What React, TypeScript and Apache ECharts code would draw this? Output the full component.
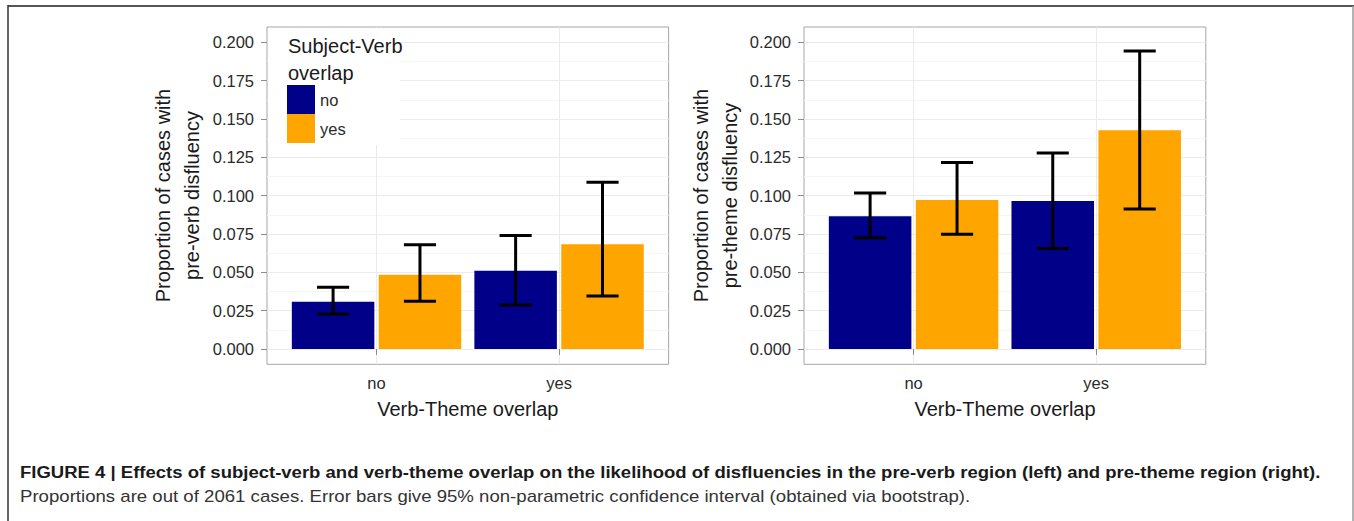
import React, { useEffect, useRef } from "react";
import * as echarts from "echarts";

// ---- data ----
const categories = ["no", "yes"]; // Verb-Theme overlap
const legendGroups = ["no", "yes"]; // Subject-Verb overlap

const preVerbNo = [0.0308, 0.051];
const preVerbNoLow = [0.0228, 0.0286];
const preVerbNoHigh = [0.0403, 0.074];
const preVerbYes = [0.0484, 0.0683];
const preVerbYesLow = [0.0312, 0.0345];
const preVerbYesHigh = [0.0679, 0.1087];

const preThemeNo = [0.0866, 0.0965];
const preThemeNoLow = [0.0725, 0.0655];
const preThemeNoHigh = [0.1017, 0.1278];
const preThemeYes = [0.0972, 0.1427];
const preThemeYesLow = [0.0748, 0.0913];
const preThemeYesHigh = [0.1217, 0.1944];

const yTicks = [0, 0.025, 0.05, 0.075, 0.1, 0.125, 0.15, 0.175, 0.2];
const yMinorTicks = [0.0125, 0.0375, 0.0625, 0.0875, 0.1125, 0.1375, 0.1625, 0.1875];
const xTicks = [1, 2];

const leftTitle = "Proportion of cases with\npre-verb disfluency";
const rightTitle = "Proportion of cases with\npre-theme disfluency";
const xTitle = "Verb-Theme overlap";
const legendTitle = "Subject-Verb\noverlap";
const caption1 =
  "FIGURE 4 | Effects of subject-verb and verb-theme overlap on the likelihood of disfluencies in the pre-verb region (left) and pre-theme region (right).";
const caption2 =
  "Proportions are out of 2061 cases. Error bars give 95% non-parametric confidence interval (obtained via bootstrap).";

// ---- style ----
const FONT = "Liberation Sans, Arial, Helvetica, sans-serif";
const BLUE = "#000088";
const ORANGE = "#FFA500";
const DODGE = 0.238;
const HALF_BAR = 0.226;
const HALF_CAP = 0.088;
const CAP_FONT = 17;
const CAP1_WIDTH = 1302;
const CAP2_WIDTH = 951;

const grids = [
  { left: 267, top: 27, width: 401.6, height: 337.3 },
  { left: 804, top: 27, width: 401.8, height: 337.3 },
];

function measure(text: string, font: string): number {
  try {
    const c = document.createElement("canvas");
    const ctx = c.getContext("2d");
    if (!ctx) return 0;
    ctx.font = font;
    return ctx.measureText(text).width;
  } catch (e) {
    return 0;
  }
}

function barSeries(grid: number, name: string, values: number[], offset: number, color: string) {
  return {
    type: "custom",
    name,
    xAxisIndex: grid,
    yAxisIndex: grid * 2,
    itemStyle: { color },
    z: 2,
    data: values.map((v, i) => [i + 1 + offset, v]),
    renderItem: (params: any, api: any) => {
      const x = api.value(0);
      const v = api.value(1);
      const p0 = api.coord([x - HALF_BAR, v]);
      const p1 = api.coord([x + HALF_BAR, 0]);
      return {
        type: "rect",
        shape: { x: p0[0], y: p0[1], width: p1[0] - p0[0], height: p1[1] - p0[1] },
        style: { fill: color },
      };
    },
  };
}

function errSeries(grid: number, lows: number[], highs: number[], offset: number) {
  return {
    type: "custom",
    name: "err",
    xAxisIndex: grid,
    yAxisIndex: grid * 2,
    z: 3,
    data: lows.map((lo, i) => [i + 1 + offset, lo, highs[i]]),
    renderItem: (params: any, api: any) => {
      const x = api.value(0);
      const lo = api.coord([x, api.value(1)]);
      const hi = api.coord([x, api.value(2)]);
      const capL = api.coord([x - HALF_CAP, 0])[0];
      const capR = api.coord([x + HALF_CAP, 0])[0];
      const st = { stroke: "#000", lineWidth: 3 };
      return {
        type: "group",
        children: [
          { type: "line", shape: { x1: lo[0], y1: lo[1], x2: hi[0], y2: hi[1] }, style: st },
          { type: "line", shape: { x1: capL, y1: lo[1], x2: capR, y2: lo[1] }, style: st },
          { type: "line", shape: { x1: capL, y1: hi[1], x2: capR, y2: hi[1] }, style: st },
        ],
      };
    },
  };
}

function xAxis(grid: number) {
  return {
    gridIndex: grid,
    type: "value",
    min: 0.4,
    max: 2.6,
    axisLine: { show: false },
    axisTick: { show: true, customValues: xTicks, length: 6, lineStyle: { color: "#8c8c8c" } },
    axisLabel: {
      customValues: xTicks,
      formatter: (v: number) => categories[Math.round(v) - 1],
      fontSize: 16.5,
      color: "#2b2b2b",
      margin: 10,
      fontFamily: FONT,
    },
    splitLine: { show: true, lineStyle: { color: "#ebebeb", width: 1 } },
  };
}

function yAxes(grid: number) {
  return [
    {
      gridIndex: grid,
      type: "value",
      min: -0.01,
      max: 0.21,
      position: "left",
      axisLine: { show: false },
      axisTick: { show: true, customValues: yTicks, length: 6, lineStyle: { color: "#8c8c8c" } },
      axisLabel: {
        customValues: yTicks,
        formatter: (v: number) => v.toFixed(3),
        fontSize: 16.5,
        color: "#2b2b2b",
        margin: 13,
        fontFamily: FONT,
      },
      splitLine: { show: true, lineStyle: { color: "#ebebeb", width: 1 } },
    },
    {
      gridIndex: grid,
      type: "value",
      min: -0.01,
      max: 0.21,
      position: "right",
      axisLine: { show: false },
      axisTick: { show: false, customValues: yMinorTicks },
      axisLabel: { show: false, customValues: yMinorTicks },
      splitLine: { show: true, lineStyle: { color: "#f6f6f6", width: 1 } },
    },
  ];
}

function titleText(x: number, y: number, text: string, rotate: boolean) {
  return {
    type: "text",
    x,
    y,
    rotation: rotate ? Math.PI / 2 : 0,
    z: 5,
    style: {
      text,
      fontFamily: FONT,
      fontSize: 20,
      lineHeight: 29,
      fill: "#1a1a1a",
      textAlign: "center",
      textVerticalAlign: "middle",
    },
  };
}

export default function App() {
  const ref = useRef<HTMLDivElement>(null);
  useEffect(() => {
    document.body.style.margin = "0";
    if (!ref.current) return;
    const chart = echarts.init(ref.current, undefined, { renderer: "svg" });
    const w1 = measure(caption1, `bold ${CAP_FONT}px "Liberation Sans"`);
    const w2 = measure(caption2, `${CAP_FONT}px "Liberation Sans"`);
    const s1 = w1 > 0 ? CAP1_WIDTH / w1 : 1.09;
    const s2 = w2 > 0 ? CAP2_WIDTH / w2 : 1.09;
    const option: any = {
      animation: false,
      backgroundColor: "#fff",
      grid: grids.map((g) => ({ ...g, show: true, borderColor: "#a6a6a6", borderWidth: 1, backgroundColor: "transparent" })),
      xAxis: [xAxis(0), xAxis(1)],
      yAxis: [...yAxes(0), ...yAxes(1)],
      legend: {
        left: 287,
        top: 85,
        orient: "vertical",
        itemWidth: 28,
        itemHeight: 29,
        itemGap: 0,
        padding: 0,
        icon: "rect",
        selectedMode: false,
        z: 6,
        data: legendGroups,
        textStyle: { fontSize: 16.5, color: "#2b2b2b", fontFamily: FONT },
      },
      series: [
        barSeries(0, legendGroups[0], preVerbNo, -DODGE, BLUE),
        barSeries(0, legendGroups[1], preVerbYes, DODGE, ORANGE),
        errSeries(0, preVerbNoLow, preVerbNoHigh, -DODGE),
        errSeries(0, preVerbYesLow, preVerbYesHigh, DODGE),
        barSeries(1, legendGroups[0], preThemeNo, -DODGE, BLUE),
        barSeries(1, legendGroups[1], preThemeYes, DODGE, ORANGE),
        errSeries(1, preThemeNoLow, preThemeNoHigh, -DODGE),
        errSeries(1, preThemeYesLow, preThemeYesHigh, DODGE),
      ],
      graphic: [
        // figure frame
        { type: "line", z: 5, shape: { x1: 8, y1: 6, x2: 1354, y2: 6 }, style: { stroke: "#555", lineWidth: 2 } },
        { type: "line", z: 5, shape: { x1: 8, y1: 5, x2: 8, y2: 521 }, style: { stroke: "#333", lineWidth: 1.5 } },
        { type: "line", z: 5, shape: { x1: 1353, y1: 6, x2: 1353, y2: 521 }, style: { stroke: "#9a9a9a", lineWidth: 1.5 } },
        // legend background
        { type: "rect", z: 3, shape: { x: 268, y: 28, width: 132, height: 117 }, style: { fill: "#fff" } },
        {
          type: "text",
          x: 288,
          y: 32,
          z: 6,
          style: { text: legendTitle, fontFamily: FONT, fontSize: 20, lineHeight: 27, fill: "#1a1a1a", textAlign: "left", textVerticalAlign: "top" },
        },
        titleText(177, 195.5, leftTitle, true),
        titleText(715.4, 195.5, rightTitle, true),
        titleText(467.8, 409, xTitle, false),
        titleText(1005, 409, xTitle, false),
        {
          type: "text",
          x: 20,
          y: 472,
          scaleX: s1,
          z: 5,
          style: { text: caption1, fontFamily: FONT, fontWeight: "bold", fontSize: CAP_FONT, fill: "#1a1a1a", textAlign: "left", textVerticalAlign: "middle" },
        },
        {
          type: "text",
          x: 20,
          y: 496,
          scaleX: s2,
          z: 5,
          style: { text: caption2, fontFamily: FONT, fontSize: CAP_FONT, fill: "#333", textAlign: "left", textVerticalAlign: "middle" },
        },
      ],
    };
    chart.setOption(option);
    return () => chart.dispose();
  }, []);
  return <div ref={ref} style={{ width: 1354, height: 521 }} />;
}
